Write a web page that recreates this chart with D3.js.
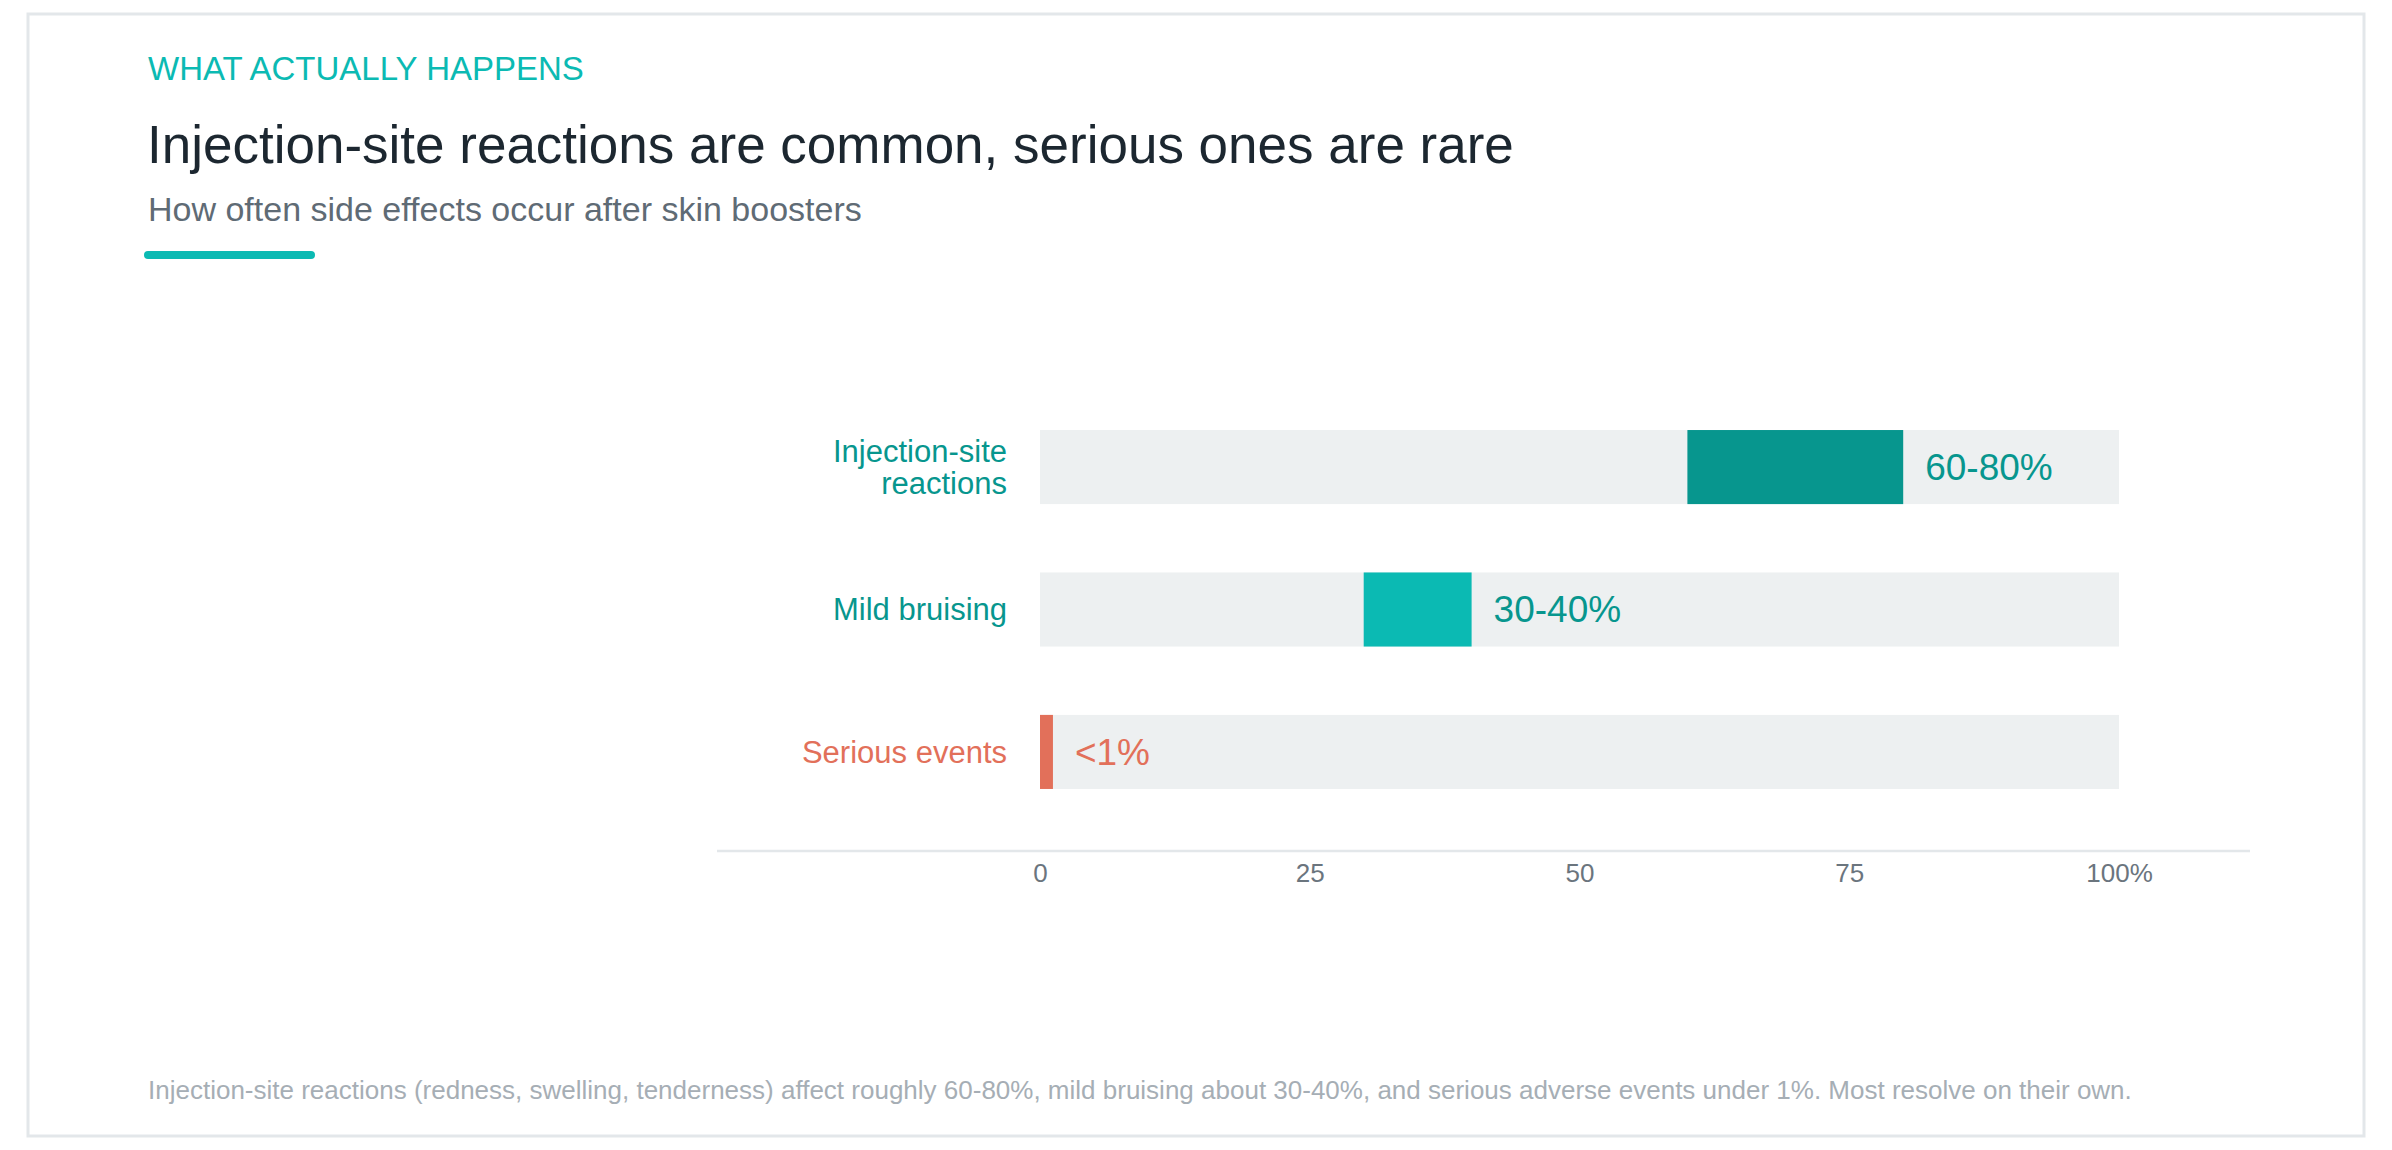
<!DOCTYPE html>
<html>
<head>
<meta charset="utf-8">
<script src="https://cdn.jsdelivr.net/npm/d3@7"></script>
<style>
  html, body { margin: 0; padding: 0; background: #fff; }
  svg { display: block; font-family: "Helvetica Neue", Helvetica, "Liberation Sans", Arial, sans-serif; }
</style>
</head>
<body>
<div id="chart"></div>
<script>
// data
const categories = ["Injection-site reactions", "Mild bruising", "Serious events"];
const labelLines = [["Injection-site", "reactions"], ["Mild bruising"], ["Serious events"]];
const lowValues = [60, 30, 0];
const highValues = [80, 40, 1.2];
const valueLabels = ["60-80%", "30-40%", "<1%"];
const fillColors = ["#07968e", "#0bbab3", "#e2705a"];
const textColors = ["#07968e", "#07968e", "#e2705a"];
const tickValues = [0, 25, 50, 75, 100];

const width = 2392, height = 1150;

const svg = d3.select("#chart").append("svg")
    .attr("width", width)
    .attr("height", height);

// card
svg.append("rect")
    .attr("x", 28).attr("y", 14)
    .attr("width", 2336).attr("height", 1122)
    .attr("fill", "#fff")
    .attr("stroke", "#e3e7ea")
    .attr("stroke-width", 3);

// header
svg.append("text")
    .attr("x", 148).attr("y", 80)
    .attr("font-size", 33)
    .attr("fill", "#0bbab3")
    .text("WHAT ACTUALLY HAPPENS");

svg.append("text")
    .attr("x", 147).attr("y", 163)
    .attr("font-size", 53)
    .attr("fill", "#1c2730")
    .text("Injection-site reactions are common, serious ones are rare");

svg.append("text")
    .attr("x", 148).attr("y", 221)
    .attr("font-size", 34)
    .attr("fill", "#5f6b75")
    .text("How often side effects occur after skin boosters");

svg.append("rect")
    .attr("x", 144).attr("y", 251)
    .attr("width", 171).attr("height", 8)
    .attr("rx", 4)
    .attr("fill", "#0bbab3");

// scales
const x = d3.scaleLinear().domain([0, 100]).range([1040, 2119]);
const y = d3.scaleBand().domain(categories).range([393, 826])
    .paddingInner(0.48).paddingOuter(0.26);

const rows = svg.append("g")
    .selectAll("g")
    .data(categories)
    .join("g");

// track
rows.append("rect")
    .attr("x", x(0))
    .attr("y", d => y(d))
    .attr("width", x(100) - x(0))
    .attr("height", y.bandwidth())
    .attr("fill", "#edf0f1");

// range bar
rows.append("rect")
    .attr("x", (d, i) => x(lowValues[i]))
    .attr("y", d => y(d))
    .attr("width", (d, i) => x(highValues[i]) - x(lowValues[i]))
    .attr("height", y.bandwidth())
    .attr("fill", (d, i) => fillColors[i]);

// value labels
rows.append("text")
    .attr("x", (d, i) => x(highValues[i]) + 22)
    .attr("y", d => y(d) + y.bandwidth() / 2)
    .attr("dy", "0.35em")
    .attr("font-size", 37)
    .attr("fill", (d, i) => textColors[i])
    .text((d, i) => valueLabels[i]);

// category labels
rows.append("text")
    .attr("text-anchor", "end")
    .attr("font-size", 31)
    .attr("fill", (d, i) => textColors[i])
    .each(function(d, i) {
        const lines = labelLines[i];
        const lh = 32;
        const cy = y(d) + y.bandwidth() / 2;
        const t = d3.select(this);
        lines.forEach((ln, j) => {
            t.append("tspan")
                .attr("x", 1007)
                .attr("y", cy + (j - (lines.length - 1) / 2) * lh)
                .attr("dy", "0.35em")
                .text(ln);
        });
    });

// axis
svg.append("line")
    .attr("x1", 717).attr("x2", 2250)
    .attr("y1", 851).attr("y2", 851)
    .attr("stroke", "#e3e7ea")
    .attr("stroke-width", 2.5);

const axis = svg.append("g")
    .attr("transform", "translate(0,852)")
    .call(d3.axisBottom(x)
        .tickValues(tickValues)
        .tickSize(0)
        .tickPadding(12)
        .tickFormat(d => d === 100 ? "100%" : d));
axis.select(".domain").remove();
axis.selectAll("text")
    .attr("font-size", 26)
    .attr("fill", "#6b757e");
axis.attr("font-family", null).attr("font-size", null);

// footnote
svg.append("text")
    .attr("x", 148).attr("y", 1099)
    .attr("font-size", 26)
    .attr("fill", "#a6aeb5")
    .text("Injection-site reactions (redness, swelling, tenderness) affect roughly 60-80%, mild bruising about 30-40%, and serious adverse events under 1%. Most resolve on their own.");
</script>
</body>
</html>
